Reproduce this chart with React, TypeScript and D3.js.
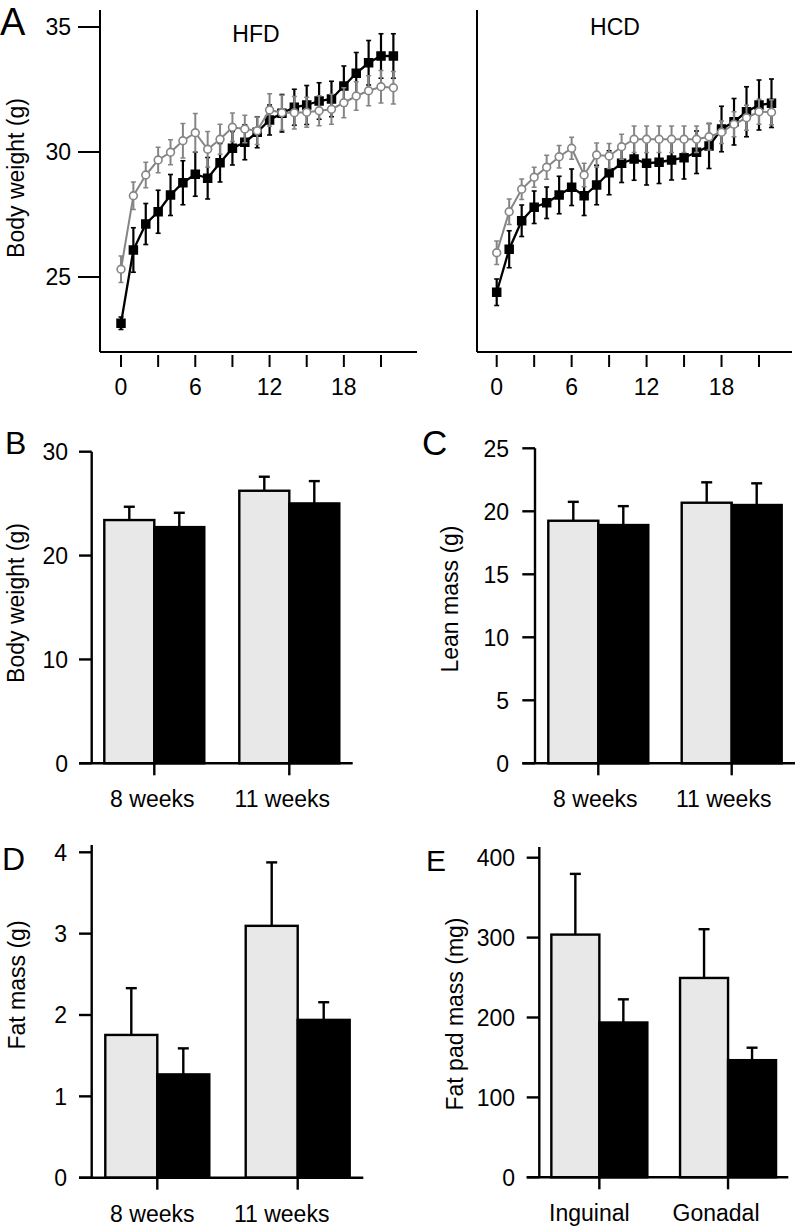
import React from "react";
import * as d3 from "d3";

// ---------- Data ----------
const weeks = [0,1,2,3,4,5,6,7,8,9,10,11,12,13,14,15,16,17,18,19,20,21,22];
const xTicksA = [0,3,6,9,12,15,18,21];
const xTickLabelsA = [0,6,12,18];
const yTicksA = [25,30,35];

const hfdBlack = [23.15,26.08,27.12,27.61,28.28,28.77,29.11,28.95,29.57,30.15,30.39,30.79,31.28,31.55,31.79,31.88,32.04,32.12,32.64,33.15,33.57,33.84,33.84];
const hfdBlackErr = [0.25,0.89,0.82,0.86,0.82,0.88,0.88,0.83,0.77,0.67,0.7,0.62,0.6,0.75,0.72,0.78,0.73,0.71,0.8,0.83,0.89,0.89,0.89];
const hfdGray = [25.31,28.25,29.08,29.68,29.99,30.45,30.77,30.11,30.51,30.99,30.92,30.85,31.68,31.57,31.57,31.59,31.65,31.71,31.97,32.24,32.45,32.61,32.57];
const hfdGrayErr = [0.53,0.55,0.51,0.51,0.5,0.69,0.77,0.71,0.6,0.57,0.55,0.55,0.65,0.7,0.65,0.6,0.6,0.6,0.6,0.57,0.6,0.65,0.65];

const hcdBlack = [24.39,26.11,27.25,27.79,27.97,28.28,28.59,28.25,28.68,29.17,29.55,29.72,29.55,29.59,29.68,29.77,29.99,30.24,30.92,31.21,31.61,31.88,31.95];
const hcdBlackErr = [0.53,0.74,0.63,0.65,0.63,0.75,0.73,0.79,0.79,0.88,0.77,0.85,0.87,0.85,0.8,0.85,0.85,0.9,0.91,0.93,1.0,1.0,0.97];
const hcdGray = [25.97,27.61,28.51,28.99,29.39,29.81,30.15,29.08,29.88,29.84,30.21,30.51,30.51,30.51,30.51,30.51,30.51,30.61,30.79,31.11,31.37,31.61,31.59];
const hcdGrayErr = [0.47,0.51,0.41,0.4,0.48,0.45,0.44,0.47,0.48,0.5,0.5,0.53,0.53,0.53,0.53,0.53,0.53,0.53,0.45,0.5,0.5,0.5,0.5];

const weekCats = ["8 weeks", "11 weeks"];
const padCats = ["Inguinal", "Gonadal"];

const bwGray = [23.42, 26.24];
const bwGrayErr = [1.28, 1.35];
const bwBlack = [22.74, 25.02];
const bwBlackErr = [1.38, 2.15];
const bwTicks = [0, 10, 20, 30];

const leanGray = [19.25, 20.68];
const leanGrayErr = [1.5, 1.62];
const leanBlack = [18.91, 20.5];
const leanBlackErr = [1.5, 1.72];
const leanTicks = [0, 5, 10, 15, 20, 25];

const fatGray = [1.755, 3.096];
const fatGrayErr = [0.575, 0.78];
const fatBlack = [1.27, 1.94];
const fatBlackErr = [0.32, 0.217];
const fatTicks = [0, 1, 2, 3, 4];

const padGray = [303.75, 249.5];
const padGrayErr = [76, 61];
const padBlack = [193.75, 146.6];
const padBlackErr = [29, 15.6];
const padTicks = [0, 100, 200, 300, 400];

// ---------- Styles ----------
const FONT = "'Liberation Sans', Arial, Helvetica, sans-serif";
const GRAY = "#858585";
const BAR_GRAY = "#e8e8e8";
const FS = 23;

type LineProps = {
  x0: number; x1: number; axisLeft: number; axisRight: number;
  title: string; titleX: number; titleY: number; showY: boolean;
  black: number[]; blackErr: number[]; gray: number[]; grayErr: number[];
};

function LinePanel(p: LineProps) {
  const y = d3.scaleLinear().domain([25, 35]).range([277, 27]);
  const x = d3.scaleLinear().domain([0, 21]).range([p.x0, p.x1]);
  const yBottom = 352;
  const yTop = 10;
  const line = d3.line<number>().x((_, i) => x(weeks[i])).y((d) => y(d));
  const sq = 9.5;
  return (
    <g>
      <line x1={p.axisLeft} y1={yTop} x2={p.axisLeft} y2={yBottom} stroke="#000" strokeWidth={2} />
      <line x1={p.axisLeft} y1={yBottom} x2={p.axisRight} y2={yBottom} stroke="#000" strokeWidth={2} />
      {xTicksA.map((t) => (
        <line key={t} x1={x(t)} x2={x(t)} y1={355} y2={367} stroke="#000" strokeWidth={2} />
      ))}
      {xTickLabelsA.map((t) => (
        <text key={t} x={x(t)} y={395} textAnchor="middle" fontSize={FS} fontFamily={FONT}>{t}</text>
      ))}
      {p.showY && yTicksA.map((t) => (
        <g key={t}>
          <line x1={78} x2={p.axisLeft} y1={y(t)} y2={y(t)} stroke="#000" strokeWidth={2} />
          <text x={71} y={y(t)} dy="0.36em" textAnchor="end" fontSize={FS} fontFamily={FONT}>{t}</text>
        </g>
      ))}
      <text x={p.titleX} y={p.titleY} textAnchor="middle" fontSize={FS} fontFamily={FONT}>{p.title}</text>
      {p.black.map((v, i) => (
        <g key={"be" + i}>
          <line x1={x(weeks[i])} x2={x(weeks[i])} y1={y(v - p.blackErr[i])} y2={y(v + p.blackErr[i])} stroke="#000" strokeWidth={2.2} />
          <line x1={x(weeks[i]) - 2.5} x2={x(weeks[i]) + 2.5} y1={y(v - p.blackErr[i])} y2={y(v - p.blackErr[i])} stroke="#000" strokeWidth={1.6} />
          <line x1={x(weeks[i]) - 2.5} x2={x(weeks[i]) + 2.5} y1={y(v + p.blackErr[i])} y2={y(v + p.blackErr[i])} stroke="#000" strokeWidth={1.6} />
        </g>
      ))}
      <path d={line(p.black) || ""} fill="none" stroke="#000" strokeWidth={2.3} />
      {p.black.map((v, i) => (
        <rect key={"bs" + i} x={x(weeks[i]) - sq / 2} y={y(v) - sq / 2} width={sq} height={sq} fill="#000" />
      ))}
      {p.gray.map((v, i) => (
        <g key={"ge" + i}>
          <line x1={x(weeks[i])} x2={x(weeks[i])} y1={y(v - p.grayErr[i])} y2={y(v + p.grayErr[i])} stroke={GRAY} strokeWidth={2} />
          <line x1={x(weeks[i]) - 2.5} x2={x(weeks[i]) + 2.5} y1={y(v - p.grayErr[i])} y2={y(v - p.grayErr[i])} stroke={GRAY} strokeWidth={1.5} />
          <line x1={x(weeks[i]) - 2.5} x2={x(weeks[i]) + 2.5} y1={y(v + p.grayErr[i])} y2={y(v + p.grayErr[i])} stroke={GRAY} strokeWidth={1.5} />
        </g>
      ))}
      <path d={line(p.gray) || ""} fill="none" stroke={GRAY} strokeWidth={2} />
      {p.gray.map((v, i) => (
        <circle key={"gc" + i} cx={x(weeks[i])} cy={y(v)} r={3.9} fill="#fff" stroke={GRAY} strokeWidth={1.6} />
      ))}
    </g>
  );
}

type BarProps = {
  cats: string[]; gray: number[]; grayErr: number[]; black: number[]; blackErr: number[];
  ticks: number[]; axisX: number; tickLeft: number; xEnd: number; y0: number; yMaxPx: number;
  yAxisTop: number; centerRange: [number, number]; barW: number; labelDx: number[];
  ylabel: string; ylabelX: number; ylabelY: number; labelRight: number;
};

function BarPanel(p: BarProps) {
  const maxT = p.ticks[p.ticks.length - 1];
  const y = d3.scaleLinear().domain([0, maxT]).range([p.y0, p.yMaxPx]);
  const xc = d3.scalePoint<string>().domain(p.cats).range(p.centerRange).padding(0.5);
  const capW = 11;
  return (
    <g>
      {p.cats.map((c, i) => {
        const cx = xc(c) as number;
        const gx = cx - p.barW;
        const bx = cx;
        const gT = y(p.gray[i]);
        const bT = y(p.black[i]);
        const gE = y(p.gray[i] + p.grayErr[i]);
        const bE = y(p.black[i] + p.blackErr[i]);
        const gm = gx + p.barW / 2;
        const bm = bx + p.barW / 2;
        return (
          <g key={c}>
            <line x1={gm} x2={gm} y1={gT} y2={gE} stroke="#000" strokeWidth={2.4} />
            <line x1={gm - capW / 2} x2={gm + capW / 2} y1={gE} y2={gE} stroke="#000" strokeWidth={2.4} />
            <line x1={bm} x2={bm} y1={bT} y2={bE} stroke="#000" strokeWidth={2.4} />
            <line x1={bm - capW / 2} x2={bm + capW / 2} y1={bE} y2={bE} stroke="#000" strokeWidth={2.4} />
            <rect x={gx} y={gT} width={p.barW} height={p.y0 - gT} fill={BAR_GRAY} stroke="#000" strokeWidth={2.4} />
            <rect x={bx} y={bT} width={p.barW} height={p.y0 - bT} fill="#000" stroke="#000" strokeWidth={2.4} />
            <line x1={cx} x2={cx} y1={p.y0} y2={p.y0 + 12} stroke="#000" strokeWidth={2.4} />
            <text x={cx + p.labelDx[i]} y={p.y0 + 44} textAnchor="middle" fontSize={FS} fontFamily={FONT}>{c}</text>
          </g>
        );
      })}
      <line x1={p.axisX} x2={p.axisX} y1={p.yAxisTop} y2={p.y0} stroke="#000" strokeWidth={2.4} />
      <line x1={p.tickLeft} x2={p.xEnd} y1={p.y0} y2={p.y0} stroke="#000" strokeWidth={2.4} />
      {p.ticks.map((t) => (
        <g key={t}>
          <line x1={p.tickLeft} x2={p.axisX} y1={y(t)} y2={y(t)} stroke="#000" strokeWidth={2.4} />
          <text x={p.labelRight} y={y(t)} dy="0.36em" textAnchor="end" fontSize={FS} fontFamily={FONT}>{t}</text>
        </g>
      ))}
      <text transform={`translate(${p.ylabelX},${p.ylabelY}) rotate(-90)`} textAnchor="middle" dominantBaseline="central" fontSize={FS} fontFamily={FONT}>{p.ylabel}</text>
    </g>
  );
}

export default function App() {
  return (
    <svg width={799} height={1231} style={{ position: "absolute", left: 0, top: 0, background: "#fff" }}>
      <rect x={0} y={0} width={799} height={1231} fill="#fff" />
      <text x={0} y={35} fontSize={38} fontFamily={FONT}>A</text>
      <text x={5} y={454} fontSize={32} fontFamily={FONT}>B</text>
      <text x={422} y={455} fontSize={35} fontFamily={FONT}>C</text>
      <text x={2} y={870} fontSize={32} fontFamily={FONT}>D</text>
      <text x={426} y={871} fontSize={30} fontFamily={FONT}>E</text>

      <text transform="translate(16,178) rotate(-90)" textAnchor="middle" dominantBaseline="central" fontSize={FS} fontFamily={FONT}>Body weight (g)</text>
      <LinePanel x0={121} x1={381} axisLeft={100} axisRight={417} title="HFD" titleX={256} titleY={42}
        showY={true} black={hfdBlack} blackErr={hfdBlackErr} gray={hfdGray} grayErr={hfdGrayErr} />
      <LinePanel x0={496.7} x1={759} axisLeft={477} axisRight={792} title="HCD" titleX={615} titleY={35}
        showY={false} black={hcdBlack} blackErr={hcdBlackErr} gray={hcdGray} grayErr={hcdGrayErr} />

      <BarPanel cats={weekCats} gray={bwGray} grayErr={bwGrayErr} black={bwBlack} blackErr={bwBlackErr}
        ticks={bwTicks} axisX={91.7} tickLeft={79} xEnd={352.7} y0={763.3} yMaxPx={451.7} yAxisTop={451.7}
        centerRange={[86.8, 356.8]} barW={50} labelDx={[-2, -7]}
        ylabel="Body weight (g)" ylabelX={16} ylabelY={603} labelRight={68} />
      <BarPanel cats={weekCats} gray={leanGray} grayErr={leanGrayErr} black={leanBlack} blackErr={leanBlackErr}
        ticks={leanTicks} axisX={535} tickLeft={522.3} xEnd={795} y0={763.3} yMaxPx={448.3} yAxisTop={448.3}
        centerRange={[531.6, 798.4]} barW={50} labelDx={[-3, -8]}
        ylabel="Lean mass (g)" ylabelX={450} ylabelY={599} labelRight={509} />
      <BarPanel cats={weekCats} gray={fatGray} grayErr={fatGrayErr} black={fatBlack} blackErr={fatBlackErr}
        ticks={fatTicks} axisX={91.7} tickLeft={79} xEnd={363.3} y0={1177.7} yMaxPx={852.3} yAxisTop={845}
        centerRange={[87.1, 367.9]} barW={52} labelDx={[-5, -16]}
        ylabel="Fat mass (g)" ylabelX={17} ylabelY={985} labelRight={67} />
      <BarPanel cats={padCats} gray={padGray} grayErr={padGrayErr} black={padBlack} blackErr={padBlackErr}
        ticks={padTicks} axisX={539.3} tickLeft={526.7} xEnd={788.3} y0={1177.3} yMaxPx={857.7} yAxisTop={847}
        centerRange={[535, 792.4]} barW={48} labelDx={[-10, -12]}
        ylabel="Fat pad mass (mg)" ylabelX={455} ylabelY={1014} labelRight={515} />
    </svg>
  );
}
